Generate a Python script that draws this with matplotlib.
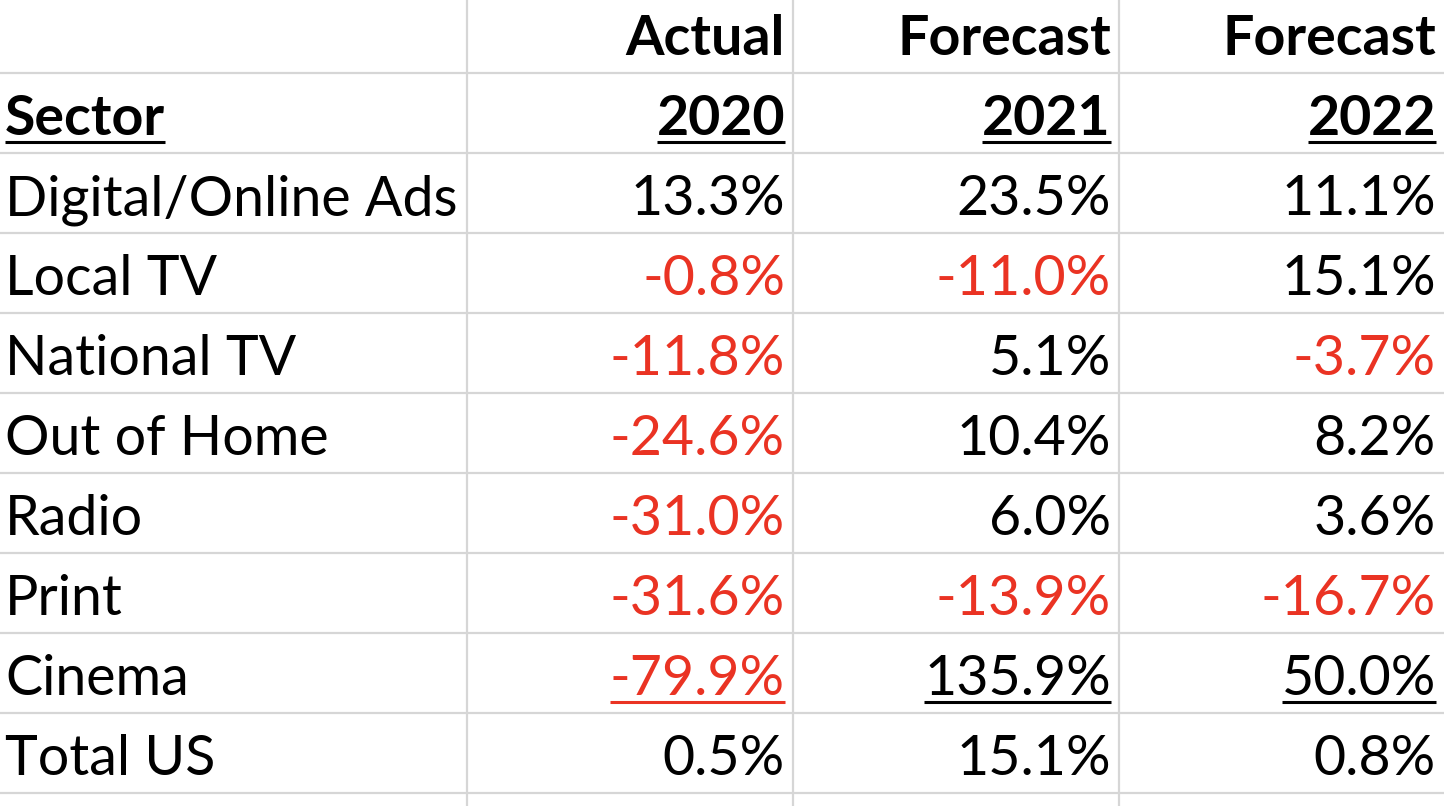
import matplotlib
matplotlib.use('Agg')
import matplotlib.pyplot as plt

sectors = ['Digital/Online Ads', 'Local TV', 'National TV', 'Out of Home',
           'Radio', 'Print', 'Cinema', 'Total US']
header_top = ['Actual', 'Forecast', 'Forecast']
header_years = ['2020', '2021', '2022']
actual_2020 = [13.3, -0.8, -11.8, -24.6, -31.0, -31.6, -79.9, 0.5]
forecast_2021 = [23.5, -11.0, 5.1, 10.4, 6.0, -13.9, 135.9, 15.1]
forecast_2022 = [11.1, 15.1, -3.7, 8.2, 3.6, -16.7, 50.0, 0.8]
underlined_row = 'Cinema'

W, H = 1444, 806
RED = '#ea3323'
GRID = '#d6d6d6'
FONT = 'Lato'
SIZE = 40

fig = plt.figure(figsize=(W / 100, H / 100), dpi=100)
ax = fig.add_axes([0, 0, 1, 1])
ax.set_xlim(0, W)
ax.set_ylim(H, 0)
ax.axis('off')

# row bottoms: first header row is cut short at the top
row_h = 80
first = 73
n_rows = 2 + len(sectors)
row_bottoms = [first + i * row_h for i in range(n_rows)]
col_edges = [467, 793, 1119, W]

for y in row_bottoms:
    ax.axhline(y, color=GRID, lw=1.6, zorder=0)
for x in col_edges[:-1]:
    ax.axvline(x, color=GRID, lw=1.6, zorder=0)

fig.canvas.draw()
renderer = fig.canvas.get_renderer()
underlines = []


def put(x, y, s, ha='left', bold=False, color='black', underline=False):
    t = ax.text(x, y, s, ha=ha, va='baseline', fontsize=SIZE, family=FONT,
                fontweight='bold' if bold else 'normal', color=color)
    if underline:
        underlines.append((t, y, color))
    return t


pad = 8
base_off = 18

# header rows
for j, (top, yr) in enumerate(zip(header_top, header_years)):
    xr = col_edges[j + 1] - pad
    put(xr, row_bottoms[0] - base_off, top, ha='right', bold=True)
    put(xr, row_bottoms[1] - base_off, yr, ha='right', bold=True, underline=True)
put(5, row_bottoms[1] - base_off, 'Sector', bold=True, underline=True)

cols = [actual_2020, forecast_2021, forecast_2022]
for i, name in enumerate(sectors):
    yb = row_bottoms[i + 2] - base_off
    put(5, yb, name)
    for j, col in enumerate(cols):
        v = col[i]
        c = RED if v < 0 else 'black'
        put(col_edges[j + 1] - pad, yb, f'{v:.1f}%', ha='right', color=c,
            underline=(name == underlined_row))

fig.canvas.draw()
inv = ax.transData.inverted()
for t, y, c in underlines:
    bb = t.get_window_extent(renderer=renderer)
    x0 = inv.transform((bb.x0, 0))[0]
    x1 = inv.transform((bb.x1, 0))[0]
    ax.plot([x0, x1], [y + 7, y + 7], color=c, lw=2.2, solid_capstyle='butt')

fig.savefig('out.png', dpi=100)
